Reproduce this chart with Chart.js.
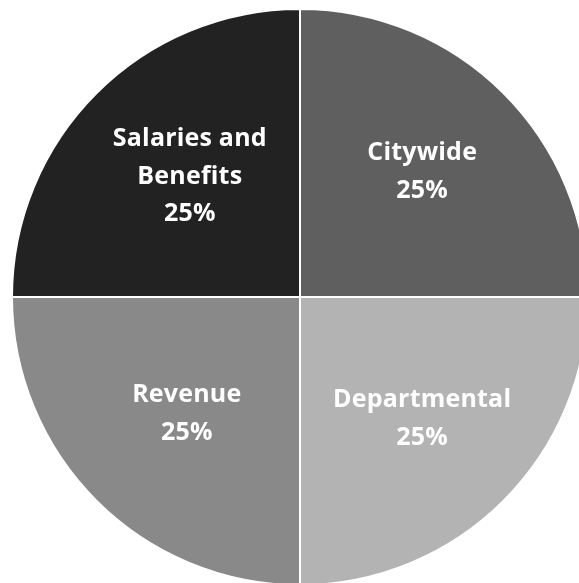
<!DOCTYPE html>
<html>
<head>
<meta charset="utf-8">
<script src="https://cdn.jsdelivr.net/npm/chart.js@4"></script>
<style>
  html, body { margin: 0; padding: 0; background: #ffffff; overflow: hidden; width: 579px; height: 583px; }
  #wrap { position: absolute; left: 0; top: 0; width: 600px; height: 594px; }
</style>
</head>
<body>
<div id="wrap"><canvas id="c"></canvas></div>
<script>
const categories = ["Citywide", "Departmental", "Revenue", "Salaries and Benefits"];
const labelLines = [["Citywide"], ["Departmental"], ["Revenue"], ["Salaries and", "Benefits"]];
const values = [25, 25, 25, 25];
const colors = ["#5f5f5f", "#b3b3b3", "#898989", "#222222"];

const total = values.reduce((a, b) => a + b, 0);

const labelPlugin = {
  id: 'sliceLabels',
  afterDatasetsDraw(chart, args, opts) {
    const ctx = chart.ctx;
    const meta = chart.getDatasetMeta(0);
    const nudge = opts.nudge || [];
    ctx.save();
    ctx.fillStyle = '#ffffff';
    ctx.font = 'bold 25px "Open Sans", sans-serif';
    ctx.textAlign = 'center';
    ctx.textBaseline = 'alphabetic';
    try { ctx.letterSpacing = '0.2px'; } catch (e) {}
    const lineH = 37.5, capH = 18;
    meta.data.forEach((arc, i) => {
      const p = arc.getProps(['startAngle', 'endAngle', 'outerRadius', 'x', 'y'], true);
      const mid = (p.startAngle + p.endAngle) / 2;
      const r = p.outerRadius * 0.6;
      const d = nudge[i] || [0, 0];
      const cx = p.x + Math.cos(mid) * r + d[0];
      const cy = p.y + Math.sin(mid) * r + d[1];
      const pct = Math.round(values[i] / total * 100) + '%';
      const lines = labelLines[i].concat([pct]);
      const n = lines.length;
      const firstBase = cy - (n - 1) * lineH / 2 + capH / 2;
      lines.forEach((t, k) => ctx.fillText(t, cx, firstBase + k * lineH));
    });
    ctx.restore();
  }
};

new Chart(document.getElementById('c'), {
  type: 'pie',
  data: {
    labels: categories,
    datasets: [{
      data: values,
      backgroundColor: colors,
      borderColor: '#ffffff',
      borderWidth: 2,
      radius: 288
    }]
  },
  options: {
    responsive: true,
    maintainAspectRatio: false,
    animation: false,
    layout: { padding: 0 },
    plugins: {
      legend: { display: false },
      tooltip: { enabled: false },
      title: { display: false },
      sliceLabels: { nudge: [[0, -5], [0, -2], [9, -7], [12, 0]] }
    }
  },
  plugins: [labelPlugin]
});
</script>
</body>
</html>
